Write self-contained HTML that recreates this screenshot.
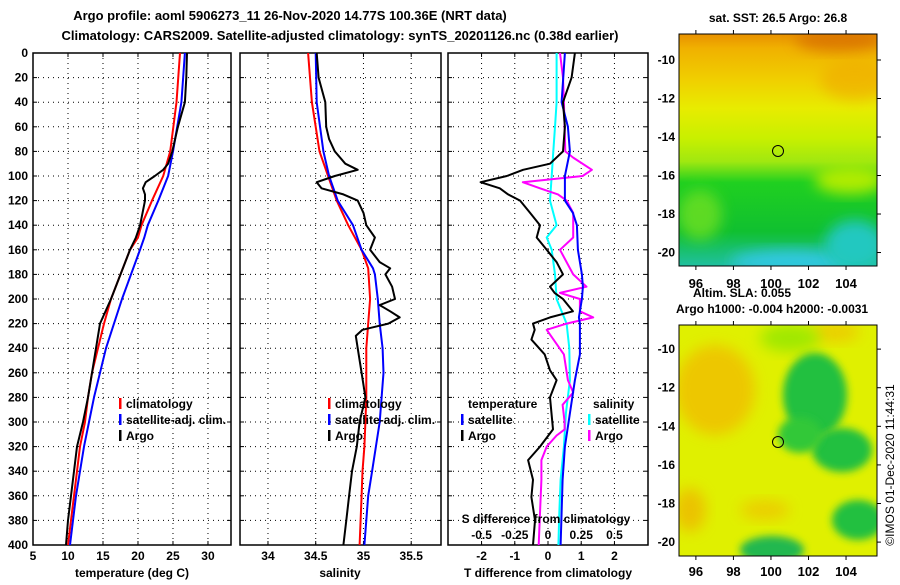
<!DOCTYPE html>
<html><head><meta charset="utf-8"><style>
body{margin:0;background:#fff;}
svg text{font-family:"Liberation Sans",Arial,sans-serif;font-weight:bold;fill:#000;}
</style></head><body>
<svg id="chart" width="900" height="580" xmlns="http://www.w3.org/2000/svg">
<defs>
<filter id="blur6" x="-30%" y="-30%" width="160%" height="160%"><feGaussianBlur stdDeviation="7"/></filter>
<filter id="blur4" x="-30%" y="-30%" width="160%" height="160%"><feGaussianBlur stdDeviation="4"/></filter>
<linearGradient id="sstg" x1="0" y1="0" x2="0" y2="1">
<stop offset="0" stop-color="#e89000"/><stop offset="0.06" stop-color="#f0b000"/>
<stop offset="0.2" stop-color="#f0d000"/><stop offset="0.32" stop-color="#e8ec00"/>
<stop offset="0.45" stop-color="#c8f000"/><stop offset="0.55" stop-color="#a0e810"/>
<stop offset="0.64" stop-color="#20d020"/><stop offset="0.85" stop-color="#10c030"/>
<stop offset="1" stop-color="#20c0a0"/>
</linearGradient>
<clipPath id="m1c"><rect x="679" y="34" width="198" height="232"/></clipPath>
<clipPath id="m2c"><rect x="679" y="325" width="198" height="231"/></clipPath>
</defs>
<text x="290" y="20" text-anchor="middle" font-size="13">Argo profile: aoml 5906273_11 26-Nov-2020 14.77S 100.36E (NRT data)</text>
<text x="340" y="40" text-anchor="middle" font-size="13">Climatology: CARS2009. Satellite-adjusted climatology: synTS_20201126.nc (0.38d earlier)</text>
<g id="panels"></g>
<g id="maps">
<text x="778" y="22" text-anchor="middle" font-size="12">sat. SST: 26.5 Argo: 26.8</text>
<g clip-path="url(#m1c)">
<rect x="679" y="34" width="198" height="232" fill="url(#sstg)"/>
<ellipse cx="840" cy="40" rx="45" ry="12" fill="#d87000" filter="url(#blur6)" opacity="0.8"/>
<ellipse cx="855" cy="80" rx="35" ry="20" fill="#f0a800" filter="url(#blur6)" opacity="0.6"/>
<ellipse cx="850" cy="180" rx="35" ry="14" fill="#b0ec00" filter="url(#blur6)"/>
<ellipse cx="700" cy="215" rx="22" ry="25" fill="#70e020" filter="url(#blur6)" opacity="0.8"/>
<ellipse cx="790" cy="262" rx="60" ry="12" fill="#30c8e0" filter="url(#blur6)"/>
<ellipse cx="855" cy="245" rx="30" ry="25" fill="#20c8c0" filter="url(#blur6)"/>
</g>
<rect x="679" y="34" width="198" height="232" fill="none" stroke="#000"/>
<circle cx="778" cy="151" r="5.5" fill="none" stroke="#000"/>
<text x="693" y="297" font-size="12">Altim. SLA: 0.055</text>
<text x="676" y="313" font-size="12">Argo h1000: -0.004 h2000: -0.0031</text>
<g clip-path="url(#m2c)">
<rect x="679" y="325" width="198" height="231" fill="#e0f000"/>
<ellipse cx="715" cy="390" rx="40" ry="45" fill="#f0c000" filter="url(#blur6)" opacity="0.85"/>
<ellipse cx="690" cy="510" rx="16" ry="22" fill="#f0b000" filter="url(#blur6)" opacity="0.7"/>
<ellipse cx="765" cy="510" rx="25" ry="10" fill="#f0c000" filter="url(#blur6)" opacity="0.7"/>
<ellipse cx="835" cy="332" rx="25" ry="10" fill="#f0c000" filter="url(#blur6)" opacity="0.7"/>
<ellipse cx="790" cy="338" rx="30" ry="14" fill="#a0e800" filter="url(#blur6)"/>
<ellipse cx="815" cy="395" rx="32" ry="42" fill="#20c040" filter="url(#blur4)"/>
<ellipse cx="842" cy="450" rx="30" ry="22" fill="#20c040" filter="url(#blur4)"/>
<ellipse cx="800" cy="435" rx="22" ry="18" fill="#30c838" filter="url(#blur4)"/>
<ellipse cx="858" cy="520" rx="26" ry="20" fill="#20c040" filter="url(#blur4)"/>
<ellipse cx="772" cy="550" rx="32" ry="14" fill="#20b850" filter="url(#blur4)"/>
</g>
<rect x="679" y="325" width="198" height="231" fill="none" stroke="#000"/>
<circle cx="778" cy="442" r="5.5" fill="none" stroke="#000"/>
<text transform="translate(894,465) rotate(-90)" text-anchor="middle" font-size="12" style="font-weight:normal">©IMOS 01-Dec-2020 11:44:31</text>
</g>
</svg>
<script>
// ---- data ----
const depthTicks=[0,20,40,60,80,100,120,140,160,180,200,220,240,260,280,300,320,340,360,380,400];
const tTicks=[5,10,15,20,25,30];
const sTicks=[34,34.5,35,35.5];
const dTTicks=[-2,-1,0,1,2];
const dSTickLabels=["-0.5","-0.25","0","0.25","0.5"];
const dSTicks=[-0.5,-0.25,0,0.25,0.5];
const lonTicks=[96,98,100,102,104];
const latTicks=[-10,-12,-14,-16,-18,-20];

const tClimD=[0,40,80,100,120,140,150,160,200,220,240,260,280,300,320,340,360,380,400];
const tClim=[26,25.5,24.6,23.6,22,20.5,20,18.86,16.14,15.14,14.29,13.43,12.86,12.43,11.71,11.29,10.86,10.43,10];
const tSatD=[0,40,80,100,120,140,150,160,200,220,240,260,280,300,320,340,360,380,400];
const tSat=[26.7,26.2,25,24.3,22.9,21.4,20.9,20.29,17.71,16.57,15.43,14.57,13.71,13,12.29,11.71,11.14,10.71,10.29];
const tArgoD=[0,20,40,60,80,90,95,100,105,110,115,120,140,150,160,200,220,280,300,320,340,380,400];
const tArgo=[27,26.9,26.7,25.7,24.9,24.3,23.6,22.4,21.1,20.7,21,21,20.3,19.7,18.86,16.14,14.57,12.86,12.14,11.29,10.86,10,9.71];

const sClimD=[0,40,80,100,120,140,160,175,200,220,240,260,280,300,320,340,360,380,400];
const sClim=[34.42,34.46,34.54,34.63,34.72,34.84,34.98,35.05,35.07,35.05,35.03,35.03,35.03,35.02,35.01,34.99,34.98,34.97,34.96];
const sSatD=[0,40,80,100,120,140,160,175,180,200,220,240,260,280,300,320,340,360,380,400];
const sSat=[34.5,34.51,34.58,34.64,34.73,34.89,34.98,35.1,35.12,35.15,35.17,35.2,35.21,35.19,35.17,35.13,35.09,35.05,35.03,35.01];
const sArgoD=[0,20,40,60,70,80,90,95,100,105,110,115,120,130,140,150,160,170,175,180,190,200,205,210,215,220,225,230,240,260,280,300,320,340,360,380,400];
const sArgo=[34.51,34.53,34.6,34.61,34.64,34.7,34.81,34.94,34.7,34.51,34.56,34.79,34.94,35,35.03,35.12,35.07,35.17,35.28,35.23,35.3,35.33,35.17,35.28,35.38,35.26,34.99,34.92,34.94,34.98,35.02,34.96,34.93,34.88,34.85,34.82,34.79];

const dTSatD=[0,40,60,80,100,120,130,140,160,180,190,200,215,220,245,266,293,320,347,374,400];
const dTSat=[0.51,0.41,0.6,0.66,0.51,0.51,0.75,0.87,0.9,1.02,1.05,1.02,0.93,0.96,0.96,0.81,0.66,0.51,0.44,0.41,0.38];
const dTArgoD=[0,20,40,60,80,90,95,100,105,110,115,120,130,140,150,160,170,180,190,195,200,210,215,220,225,233,245,258,266,280,306,320,331,347,361,380,400];
const dTArgo=[0.81,0.71,0.45,0.51,0.45,0.06,-0.75,-1.24,-2.03,-1.45,-1.2,-0.84,-0.54,-0.24,-0.34,-0.04,0.26,0.45,0.06,0.2,0.45,0.75,0.06,-0.45,-0.4,-0.5,-0.1,0.06,0.26,0.06,0.15,-0.24,-0.6,-0.45,-0.5,-0.39,-0.45];
const dSSatD=[0,40,60,80,100,120,140,150,160,180,200,220,240,266,293,320,347,374,400];
const dSSat=[0.065,0.065,0.053,0.04,0.028,0.015,0.065,-0.01,0.028,0.053,0.065,0.14,0.16,0.165,0.135,0.12,0.095,0.085,0.078];
const dSArgoD=[0,20,40,60,80,85,95,100,105,110,115,120,130,150,160,170,180,190,195,200,210,215,220,225,245,266,276,286,300,306,311,320,331,347,374,400];
const dSArgo=[0.09,0.113,0.12,0.125,0.13,0.19,0.33,0.26,-0.19,-0.06,0.075,0.14,0.19,0.19,0.09,0.14,0.19,0.29,0.09,0.24,0.24,0.34,0.14,-0.01,0.12,0.15,0.19,0.11,0.125,0.125,0.065,-0.01,-0.05,-0.05,-0.06,-0.07];

// ---- layout ----
const NS='http://www.w3.org/2000/svg';
const Y0=53, Y1=545;
const yScale=d=>Y0+(d/400)*(Y1-Y0);
const panels=[
 {name:'temperature',x0:33,x1:231,min:5,max:33.29},
 {name:'salinity',x0:240,x1:441,min:33.707,max:35.812},
 {name:'difference',x0:448,x1:648,min:-3.01,max:3.01}
];
function xs(p){return v=>p.x0+(v-p.min)/(p.max-p.min)*(p.x1-p.x0);}
const g=document.getElementById('panels');
function mk(tag,attrs,parent){const e=document.createElementNS(NS,tag);for(const k in attrs)e.setAttribute(k,attrs[k]);(parent||g).appendChild(e);return e;}
function txt(x,y,s,anchor,size,parent){const t=mk('text',{x:x,y:y,'text-anchor':anchor||'middle','font-size':size||12},parent);t.textContent=s;return t;}
function line(pts,color,name){
 const p=mk('polyline',{points:pts.map(a=>a[0].toFixed(1)+','+a[1].toFixed(1)).join(' '),fill:'none',stroke:color,'stroke-width':2,'stroke-linejoin':'round'});
 
 
}
function series(p,vals,ds,color,name,mult){const X=xs(p);line(vals.map((v,i)=>[X(v*(mult||1)),yScale(ds[i])]),color,name);}

panels.forEach((p,pi)=>{
 const X=xs(p);
 const ticks=pi==0?tTicks:pi==1?sTicks:dTTicks;
 ticks.forEach(t=>{const l=mk('line',{x1:X(t),x2:X(t),y1:Y0,y2:Y1,stroke:'#000','stroke-dasharray':'1,4'});
  
  mk('line',{x1:X(t),x2:X(t),y1:Y1,y2:Y1-4,stroke:'#000'});mk('line',{x1:X(t),x2:X(t),y1:Y0,y2:Y0+4,stroke:'#000'});
  const lab=txt(X(t),560,String(t),'middle',12);});
 depthTicks.forEach(d=>{const l=mk('line',{x1:p.x0,x2:p.x1,y1:yScale(d),y2:yScale(d),stroke:'#000','stroke-dasharray':'1,4'});
  
  mk('line',{x1:p.x0,x2:p.x0+4,y1:yScale(d),y2:yScale(d),stroke:'#000'});mk('line',{x1:p.x1,x2:p.x1-4,y1:yScale(d),y2:yScale(d),stroke:'#000'});
  if(pi==0){const lab=txt(28,yScale(d)+4,String(d),'end',12);}});
 const fr=mk('rect',{x:p.x0,y:Y0,width:p.x1-p.x0,height:Y1-Y0,fill:'none',stroke:'#000','stroke-width':1.5});
 
});
const P=panels;
series(P[0],tClim,tClimD,'#ff0000','temperature-climatology-line');
series(P[0],tSat,tSatD,'#0000ff','temperature-satellite-line');
series(P[0],tArgo,tArgoD,'#000','temperature-argo-line');
series(P[1],sClim,sClimD,'#ff0000','salinity-climatology-line');
series(P[1],sSat,sSatD,'#0000ff','salinity-satellite-line');
series(P[1],sArgo,sArgoD,'#000','salinity-argo-line');
series(P[2],dSSat,dSSatD,'#00ffff','salinity-diff-satellite-line',4);
series(P[2],dSArgo,dSArgoD,'#ff00ff','salinity-diff-argo-line',4);
series(P[2],dTSat,dTSatD,'#0000ff','temperature-diff-satellite-line');
series(P[2],dTArgo,dTArgoD,'#000','temperature-diff-argo-line');

let t;
t=txt(132,577,'temperature (deg C)');
t=txt(340,577,'salinity');
t=txt(548,577,'T difference from climatology');
t=txt(546,523,'S difference from climatology');
dSTicks.forEach((v,i)=>{const l=txt(xs(P[2])(v*4),539,dSTickLabels[i]);});

function legItem(x,y,color,label,name){mk('rect',{x:x,y:y-10,width:2.5,height:11,fill:color});const l=txt(x+7,y,label,'start',12);}
legItem(119,408,'#ff0000','climatology','legend-temp-climatology');
legItem(119,424,'#0000ff','satellite-adj. clim.','legend-temp-satellite');
legItem(119,440,'#000','Argo','legend-temp-argo');
legItem(328,408,'#ff0000','climatology','legend-sal-climatology');
legItem(328,424,'#0000ff','satellite-adj. clim.','legend-sal-satellite');
legItem(328,440,'#000','Argo','legend-sal-argo');
t=txt(468,408,'temperature','start');
legItem(461,424,'#0000ff','satellite','legend-tdiff-satellite');
legItem(461,440,'#000','Argo','legend-tdiff-argo');
t=txt(593,408,'salinity','start');
legItem(588,424,'#00ffff','satellite','legend-sdiff-satellite');
legItem(588,440,'#ff00ff','Argo','legend-sdiff-argo');

const mg=document.getElementById('maps');
const lonX=v=>679+(v-95.1)/(105.65-95.1)*198;
function mapAxes(top,bottom,latTop,latBot,labY){
 const latY=v=>top+(latTop-v)/(latTop-latBot)*(bottom-top);
 lonTicks.forEach(v=>{mk('line',{x1:lonX(v),x2:lonX(v),y1:top,y2:top-4,stroke:'#000'},mg);mk('line',{x1:lonX(v),x2:lonX(v),y1:bottom,y2:bottom+4,stroke:'#000'},mg);
  const l=txt(lonX(v),labY,String(v),'middle',13,mg);});
 latTicks.forEach(v=>{mk('line',{x1:877,x2:881,y1:latY(v),y2:latY(v),stroke:'#000'},mg);
  const l=txt(675,latY(v)+4,String(v),'end',12,mg);});
}
mapAxes(34,266,-8.65,-20.7,288);
mapAxes(325,556,-8.75,-20.72,576);
</script>
</body></html>
